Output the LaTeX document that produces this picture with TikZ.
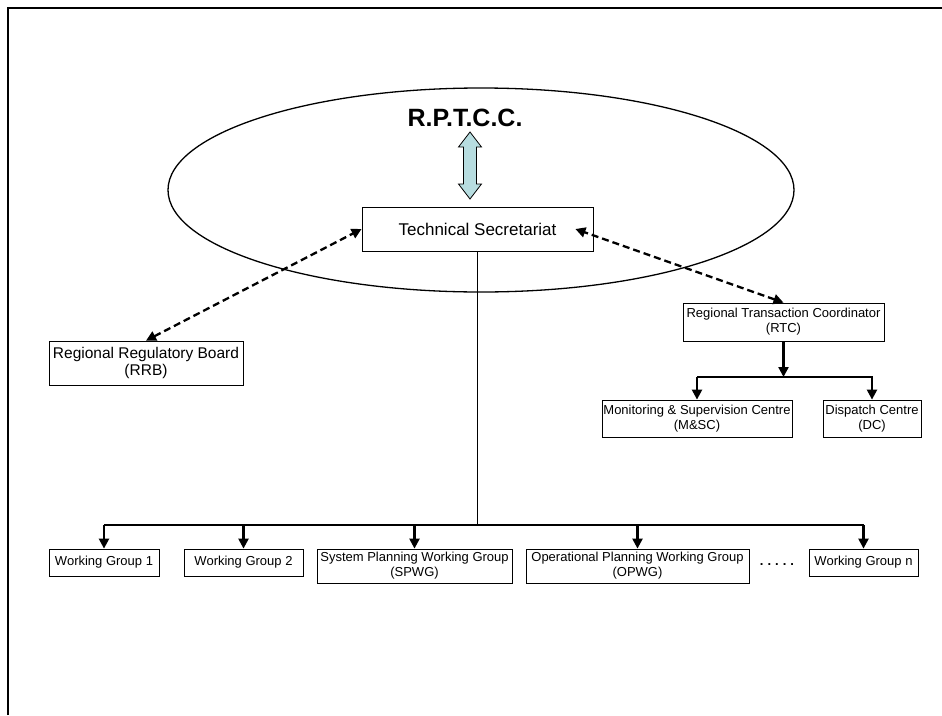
\documentclass[tikz,border=0pt]{standalone}
\usepackage{fontspec}
\setmainfont{Liberation Sans}
\usetikzlibrary{arrows.meta}
\definecolor{linkblue}{RGB}{183,221,224}
\tikzset{
  box/.style={draw,line width=0.8pt,align=center,inner sep=1pt,font=\fontsize{13}{15}\selectfont},
  tip/.style={-{Triangle[length=10pt,width=10pt]}},
  dtip/.style={dash pattern=on 7pt off 4pt,{Triangle[length=10pt,width=10pt]}-{Triangle[length=10pt,width=10pt]}},
}

\begin{document}
\begin{tikzpicture}[x=1pt,y=-1pt,line width=2.3pt]
\useasboundingbox (0,0) rectangle (942,715);
\draw[line width=2.6pt] (8,715)--(8,8)--(942,8);
\draw[line width=1.3pt] (481,190) ellipse[x radius=313,y radius=102];
\node[font=\fontsize{25}{27}\selectfont\bfseries] (rptcc) at (465,118) {R.P.T.C.C.};
\node[box,minimum width=231,minimum height=44,font=\fontsize{17}{19}\selectfont] (ts) at (477.5,229) {Technical Secretariat};
\coordinate (up) at (470,132);
\filldraw[fill=linkblue,line width=0.8pt] (up) -- ++(11.5,15) -- ++(-5,0) -- ++(0,37) -- ++(5,0) -- ++(-11.5,15)
  -- ++(-11.5,-15) -- ++(5,0) -- ++(0,-37) -- ++(-5,0) -- cycle;
\node[box,minimum width=194,minimum height=44,font=\fontsize{15.5}{17.5}\selectfont] (rrb) at (146,363) {Regional Regulatory Board\\(RRB)};
\node[box,minimum width=201,minimum height=38] (rtc) at (783.5,322) {Regional Transaction Coordinator\\(RTC)};
\node[box,minimum width=190,minimum height=37] (msc) at (697,418.5) {Monitoring \& Supervision Centre\\(M\&SC)};
\node[box,minimum width=98,minimum height=37] (dc) at (872,418.5) {Dispatch Centre\\(DC)};
\draw[dtip] (rrb.north) -- (ts.west);
\draw[dtip] (rtc.north) -- ([xshift=-18pt]ts.east);
\coordinate (rtcbus) at (783.5,377);
\draw[tip] (rtc.south) -- (rtcbus);
\draw[tip] (msc.north |- rtcbus) -- (msc.north);
\draw[tip] (msc.north |- rtcbus) -| (dc.north);
\node[box,minimum width=110,minimum height=27] (wg1) at (104,562.5) {Working Group 1};
\node[box,minimum width=119,minimum height=27] (wg2) at (243.5,562.5) {Working Group 2};
\node[box,minimum width=195,minimum height=34] (spwg) at (414.5,566) {System Planning Working Group\\(SPWG)};
\node[box,minimum width=223,minimum height=34] (opwg) at (637.5,566) {Operational Planning Working Group\\(OPWG)};
\node[box,minimum width=109,minimum height=27] (wgn) at (863.5,562.5) {Working Group n};
\node[anchor=base,font=\fontsize{13}{15}\selectfont\bfseries] (dots) at (777,565) {.\hspace{4pt}.\hspace{4pt}.\hspace{4pt}.\hspace{4pt}.};
\coordinate (bus) at (477.5,525);
\draw[line width=0.8pt] (ts.south) -- (bus);
\draw (wg1.north |- bus) -- (wgn.north |- bus);
\foreach \n in {wg1,wg2,spwg,opwg,wgn} {\draw[tip] (\n.north |- bus) -- (\n.north);}
\end{tikzpicture}
\end{document}
